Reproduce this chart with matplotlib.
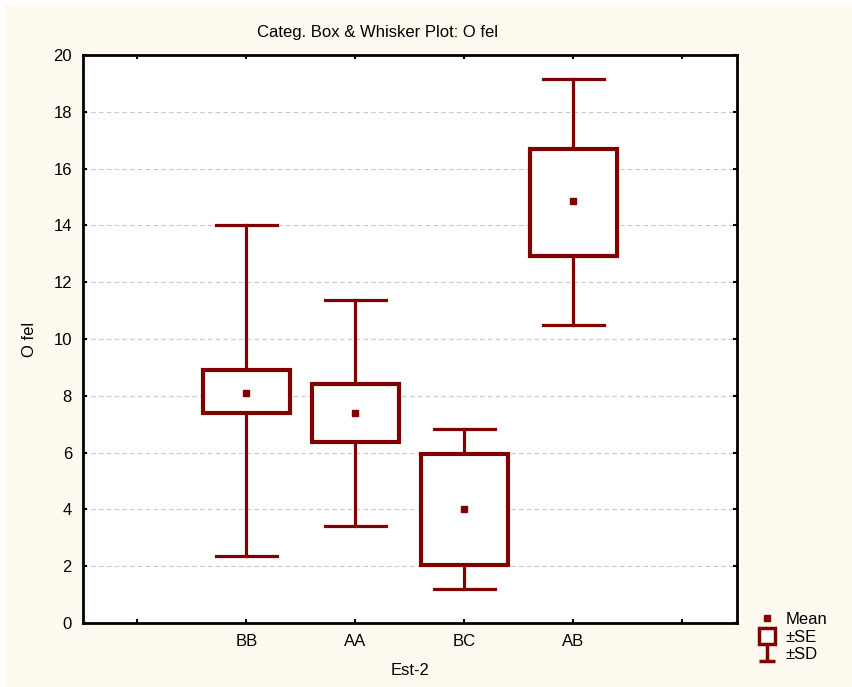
import matplotlib.pyplot as plt
from matplotlib.lines import Line2D
from matplotlib.patches import Rectangle
from matplotlib.path import Path

categories = ["BB", "AA", "BC", "AB"]
means = [8.1, 7.4, 4.0, 14.85]
se_low = [7.39, 6.37, 2.04, 12.92]
se_high = [8.91, 8.42, 5.95, 16.69]
sd_low = [2.36, 3.42, 1.2, 10.49]
sd_high = [14.0, 11.37, 6.83, 19.15]

red = "#800000"
cream = "#FFFAEF"

plt.rcParams["font.family"] = ["Liberation Sans", "DejaVu Sans"]
fs = 12

fig = plt.figure(figsize=(8.53, 6.87), dpi=100, facecolor="white")
fig.patches.append(Rectangle((5 / 853, 0), 1, 1 - 5 / 687, transform=fig.transFigure,
                             facecolor=cream, edgecolor="none", zorder=-10))
ax = fig.add_axes([83 / 853, 64 / 687, 654 / 853, 568 / 687])
ax.set_facecolor("white")

lw = 2.3
box_w = 0.8
cap_w = 0.56
for i, cat in enumerate(categories):
    x = i + 1
    # whiskers (+-SD)
    ax.plot([x, x], [se_high[i], sd_high[i]], color=red, lw=lw, zorder=3)
    ax.plot([x, x], [sd_low[i], se_low[i]], color=red, lw=lw, zorder=3)
    ax.plot([x - cap_w / 2, x + cap_w / 2], [sd_high[i]] * 2, color=red, lw=lw, zorder=3)
    ax.plot([x - cap_w / 2, x + cap_w / 2], [sd_low[i]] * 2, color=red, lw=lw, zorder=3)
    # box (+-SE)
    ax.add_patch(Rectangle((x - box_w / 2, se_low[i]), box_w, se_high[i] - se_low[i],
                           facecolor="white", edgecolor=red, lw=lw * 1.3, zorder=4))
    # mean
    ax.plot(x, means[i], marker="s", ms=4.5, color=red, zorder=5)

ax.set_xlim(-0.5, 5.5)
ax.set_ylim(0, 20)
ax.set_xticks(range(6))
ax.set_xticklabels([""] + categories + [""])
ax.set_yticks(range(0, 21, 2))
ax.yaxis.grid(True, ls=(0, (4, 3)), color="#c8c8c8", lw=0.8)
ax.set_axisbelow(True)
ax.tick_params(direction="in", length=3, width=1.5, labelsize=fs, pad=8,
               top=True, right=True)
for sp in ax.spines.values():
    sp.set_linewidth(2)

ax.set_xlabel("Est-2", fontsize=fs, labelpad=10)
ax.set_ylabel("O fel", fontsize=fs, labelpad=12)
fig.text(378 / 853, 1 - 32 / 687, "Categ. Box & Whisker Plot: O fel",
         ha="center", va="center", fontsize=fs)

sd_marker = Path([(0, 1), (0, -1), (-1, -1), (1, -1)],
                 [Path.MOVETO, Path.LINETO, Path.MOVETO, Path.LINETO])
handles = [
    Line2D([], [], ls="none", marker="s", ms=4.5, color=red),
    Line2D([], [], ls="none", marker="s", ms=11, mfc="white", mec=red, mew=2.5),
    Line2D([], [], ls="none", marker=sd_marker, ms=12, color=red, mew=2.5),
]
fig.legend(handles, ["Mean", "±SE", "±SD"], loc="upper left",
           bbox_to_anchor=(749 / 853, 1 - 604 / 687), frameon=False,
           fontsize=fs, handlelength=1.2, handletextpad=0.5, labelspacing=0.15,
           borderpad=0)

fig.savefig("out.png", dpi=100, facecolor=fig.get_facecolor())
